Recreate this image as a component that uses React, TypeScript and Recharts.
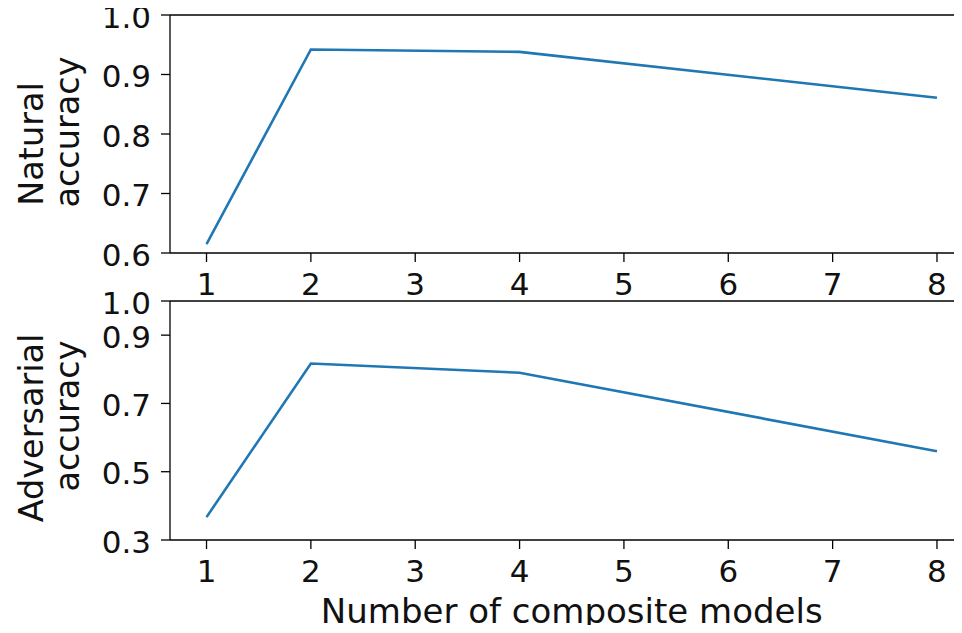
import React from "react";
import { Line, LineChart, ReferenceLine, XAxis, YAxis } from "recharts";

// number of composite models and measured accuracies
const composites = [1, 2, 4, 8];
const natural = [0.615, 0.942, 0.938, 0.861];
const adversarial = [0.367, 0.817, 0.79, 0.56];

const xTicks = [1, 2, 3, 4, 5, 6, 7, 8];
const naturalTicks = [0.6, 0.7, 0.8, 0.9, 1.0];
const adversarialTicks = [0.3, 0.5, 0.7, 0.9, 1.0];

const naturalData = composites.map((m, i) => ({ models: m, value: natural[i] }));
const adversarialData = composites.map((m, i) => ({ models: m, value: adversarial[i] }));

const font = "'DejaVu Sans', sans-serif";
const tickStyle = { fontSize: 31, fill: "#111", fontFamily: font };
const axisLine = { stroke: "#000", strokeWidth: 1.3 };
const tickLine = { stroke: "#000", strokeWidth: 1.3 };
const blue = "#1f77b4";
const topPad = 35; // room above each panel for the 1.0 label

function YTick(props: any) {
  const { x, y, payload } = props;
  return (
    <text
      x={x}
      y={y + 12.5}
      textAnchor="end"
      fontSize={31}
      fontFamily={font}
      fill="#111"
    >
      {Number(payload.value).toFixed(1)}
    </text>
  );
}

function YTitle({ lines }: { lines: { text: string; x: number; y: number }[] }) {
  return (
    <g>
      {lines.map((l) => (
        <text
          key={l.text + l.x}
          x={l.x}
          y={l.y + topPad - 15}
          transform={`rotate(-90 ${l.x} ${l.y + topPad - 15})`}
          textAnchor="middle"
          fontSize={33.5}
          fontFamily={font}
          fill="#111"
        >
          {l.text}
        </text>
      ))}
    </g>
  );
}

function Panel({
  data,
  ticks,
  domain,
  height,
  xAxisHeight,
  titleLines,
  xTitle,
}: {
  data: { models: number; value: number }[];
  ticks: number[];
  domain: [number, number];
  height: number;
  xAxisHeight: number;
  titleLines: { text: string; x: number; y: number }[];
  xTitle?: string;
}) {
  return (
    <LineChart
      width={1000}
      height={height + topPad - 15}
      data={data}
      margin={{ top: topPad, right: 26.5, bottom: 0, left: 0 }}
    >
      <XAxis
        dataKey="models"
        type="number"
        domain={[0.65, 8.35]}
        ticks={xTicks}
        interval={0}
        allowDataOverflow
        tick={tickStyle}
        tickSize={9}
        tickMargin={11}
        axisLine={axisLine}
        tickLine={tickLine}
        height={xAxisHeight}
        label={
          xTitle
            ? {
                content: () => (
                  <text
                    x={571.75}
                    y={337 + topPad - 15}
                    textAnchor="middle"
                    fontSize={34}
                    fontFamily={font}
                    fill="#111"
                  >
                    {xTitle}
                  </text>
                ),
              }
            : undefined
        }
      />
      <YAxis
        type="number"
        domain={domain}
        ticks={ticks}
        interval={0}
        allowDataOverflow
        width={170}
        tick={<YTick />}
        tickSize={9}
        tickMargin={10}
        axisLine={axisLine}
        tickLine={tickLine}
        label={{ content: () => <YTitle lines={titleLines} /> }}
      />
      {/* top spine */}
      <ReferenceLine y={domain[1]} stroke="#000" strokeWidth={1.3} />
      <Line
        type="linear"
        dataKey="value"
        stroke={blue}
        strokeWidth={2.6}
        dot={false}
        activeDot={false}
        isAnimationActive={false}
      />
    </LineChart>
  );
}

export default function App() {
  return (
    <div
      style={{
        position: "relative",
        margin: -8,
        width: 962,
        height: 633,
        overflow: "hidden",
        background: "#fff",
      }}
    >
      <div style={{ position: "absolute", left: 0, top: 15 - topPad }}>
        <Panel
          data={naturalData}
          ticks={naturalTicks}
          domain={[0.6, 1.0]}
          height={310}
          xAxisHeight={57}
          titleLines={[
            { text: "Natural", x: 43, y: 144 },
            { text: "accuracy", x: 79, y: 132 },
          ]}
        />
      </div>
      <div style={{ position: "absolute", left: 0, top: 286 + 15 - topPad }}>
        <Panel
          data={adversarialData}
          ticks={adversarialTicks}
          domain={[0.3, 1.0]}
          height={347}
          xAxisHeight={93}
          titleLines={[
            { text: "Adversarial", x: 43, y: 142 },
            { text: "accuracy", x: 79, y: 130 },
          ]}
          xTitle="Number of composite models"
        />
      </div>
    </div>
  );
}
